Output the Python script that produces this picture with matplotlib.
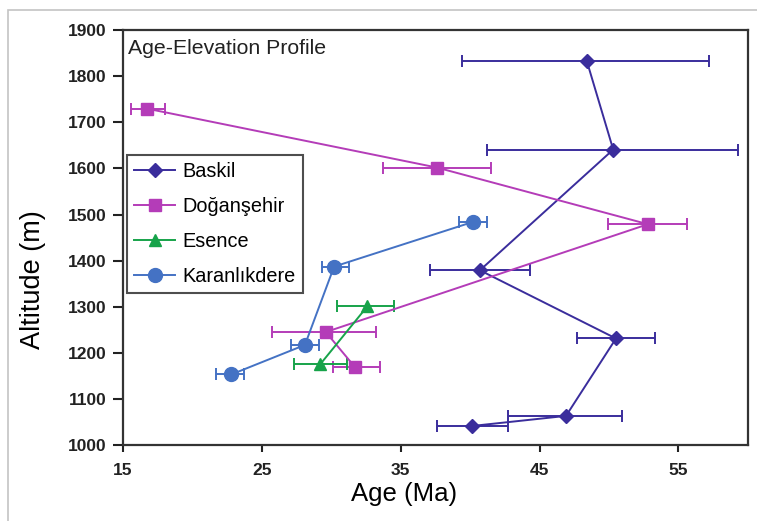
import matplotlib
matplotlib.use("Agg")
import matplotlib.pyplot as plt
from matplotlib.patches import Rectangle
from matplotlib.lines import Line2D

# Data
baskil_age = [48.4, 50.3, 40.7, 50.5, 46.9, 40.1]
baskil_alt = [1833, 1641, 1379, 1231, 1063, 1041]
baskil_lo = [39.4, 41.2, 37.1, 47.7, 42.7, 37.6]
baskil_hi = [57.2, 59.3, 44.3, 53.3, 50.9, 42.7]

dog_age = [16.7, 37.6, 52.8, 29.6, 31.7]
dog_alt = [1730, 1602, 1479, 1245, 1169]
dog_lo = [15.6, 33.7, 49.9, 25.7, 30.1]
dog_hi = [18.0, 41.5, 55.6, 33.2, 33.5]

es_age = [32.6, 29.2]
es_alt = [1301, 1175]
es_lo = [30.4, 27.3]
es_hi = [34.5, 31.1]

kar_age = [40.2, 30.2, 28.1, 22.8]
kar_alt = [1484, 1387, 1217, 1153]
kar_lo = [39.2, 29.3, 27.1, 21.7]
kar_hi = [41.2, 31.3, 29.1, 23.7]

xticks = [15, 25, 35, 45, 55]
yticks = list(range(1000, 1901, 100))

plt.rcParams['font.family'] = ['Liberation Sans', 'DejaVu Sans']

fig = plt.figure(figsize=(7.57, 5.21), dpi=100)
ax = fig.add_axes([0.1625, 0.146, 0.8255, 0.796])

fig.patches.append(Rectangle((8/757, -0.01), 1, 1.0 - 10/521 + 0.01, transform=fig.transFigure,
                             fill=False, edgecolor='#c4c4c4', linewidth=1.2))

series = [
    ("Baskil", baskil_age, baskil_alt, baskil_lo, baskil_hi, '#3a2d9c', 'D', 7),
    ("Doğanşehir", dog_age, dog_alt, dog_lo, dog_hi, '#b43cb8', 's', 9),
    ("Esence", es_age, es_alt, es_lo, es_hi, '#17a34a', '^', 9),
    ("Karanlıkdere", kar_age, kar_alt, kar_lo, kar_hi, '#4472c4', 'o', 10),
]

handles = []
for name, a, h, lo, hi, c, m, ms in series:
    xerr = [[ai - l for ai, l in zip(a, lo)], [u - ai for ai, u in zip(a, hi)]]
    ax.errorbar(a, h, xerr=xerr, color=c, marker=m, markersize=ms, linewidth=1.4,
                elinewidth=1.4, capsize=4, capthick=1.4)
    handles.append(Line2D([], [], color=c, marker=m, markersize=ms, linewidth=1.4, label=name))

ax.set_xlim(15, 60)
ax.set_ylim(1000, 1900)
ax.set_xticks(xticks)
ax.set_yticks(yticks)
for lbl in ax.get_xticklabels() + ax.get_yticklabels():
    lbl.set_fontweight('bold')
    lbl.set_fontsize(12.5)
ax.tick_params(direction='out', width=1.5, colors='#222222')
ax.tick_params(axis='y', length=7, pad=5)
ax.tick_params(axis='x', length=5, pad=8)
for s in ax.spines.values():
    s.set_linewidth(1.6)
    s.set_color('#333333')

ax.set_xlabel("Age (Ma)", fontsize=18.5)
ax.xaxis.set_label_coords(0.45, -0.089)
ax.set_ylabel("Altitude (m)", fontsize=19.5)
ax.yaxis.set_label_coords(-0.123, 0.398)

ax.text(0.008, 0.978, "Age-Elevation Profile", transform=ax.transAxes,
        fontsize=15.3, va='top', ha='left', color='#222222')

leg = ax.legend(handles=handles, loc='upper left', bbox_to_anchor=(0.006, 0.699), fontsize=14.3,
                frameon=True, fancybox=False, edgecolor='#222222', borderaxespad=0,
                handlelength=2.1, borderpad=0.35, labelspacing=0.8, handletextpad=0.35)
leg.get_frame().set_linewidth(1.5)

fig.savefig("out.png", dpi=100)
